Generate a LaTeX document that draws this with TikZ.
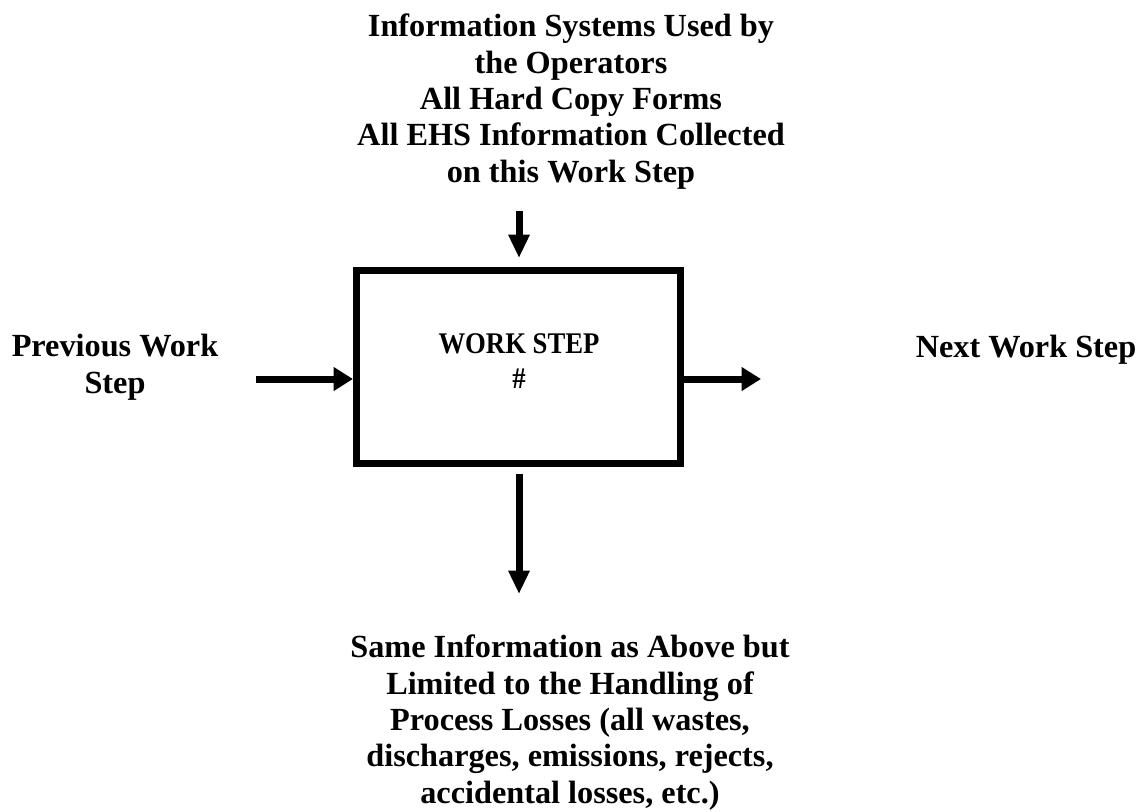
\documentclass[tikz,border=0pt]{standalone}
\usepackage{fontspec}
\setmainfont{Liberation Serif}
\newfontfamily\narrowserif[FakeStretch=0.89]{Liberation Serif}
\usetikzlibrary{arrows.meta}
\begin{document}
\begin{tikzpicture}[x=0.75pt,y=-0.75pt,
  lbl/.style={font=\bfseries\fontsize{24.2}{27.2}\selectfont, align=center, inner sep=0pt, anchor=base},
  boxlbl/.style={font=\narrowserif\bfseries\fontsize{22.5}{26.25}\selectfont, align=center, inner sep=0pt, anchor=base},
  stepbox/.style={draw, line width=5.25pt, minimum width=243pt, minimum height=144.75pt, inner sep=0pt},
  varrow/.style={line width=5.25pt, -{Triangle[length=17.5pt,width=15pt]}},
  harrow/.style={line width=5.25pt, -{Triangle[length=14.5pt,width=17pt]}}
]
\useasboundingbox (0,0) rectangle (1145,811);
\node[stepbox] (box) at (518.5,367) {};
\node[boxlbl] (steptext) at (519,388) {WORK STEP\\\#};
\node[lbl] (top) at (571,182) {Information Systems Used by\\the Operators\\All Hard Copy Forms\\All EHS Information Collected\\on this Work Step};
\node[lbl] (prev) at (115,393) {Previous Work\\Step};
\node[lbl] (next) at (1026,357) {Next Work Step};
\node[lbl] (bottom) at (570,803) {Same Information as Above but\\Limited to the Handling of\\Process Losses (all wastes,\\discharges, emissions, rejects,\\accidental losses, etc.)};
\coordinate (tin) at (519,211);
\coordinate (lin) at (256,379);
\coordinate (rout) at (761,379);
\coordinate (bout) at (519,594);
\draw[varrow, shorten >=6.75pt] (tin) -- (tin |- box.north);
\draw[harrow] (lin) -- (lin -| box.west);
\draw[harrow] (rout -| box.east) -- (rout);
\draw[varrow, shorten <=5.25pt] (bout |- box.south) -- (bout);
\end{tikzpicture}
\end{document}
